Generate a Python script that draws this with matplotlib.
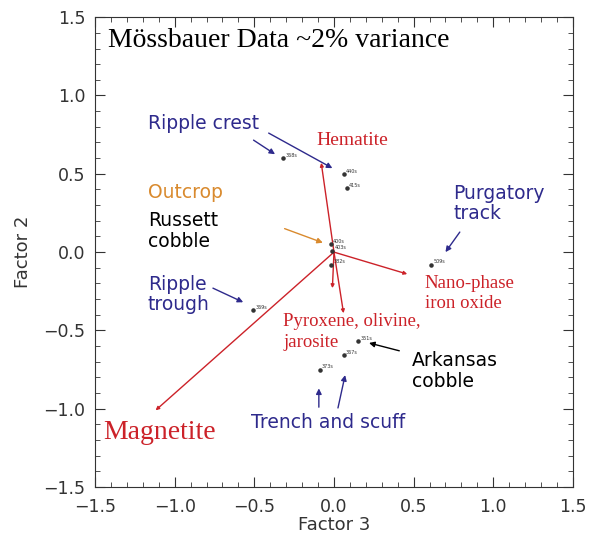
import numpy as np
import matplotlib.pyplot as plt
from matplotlib.ticker import MultipleLocator

# sample scores (Factor 3, Factor 2)
sample_names = ['368s', '440s', '415s', '400s', '403s', '382s', '509s', '369s', '351s', '367s', '373s']
sample_f3 = [-0.32, 0.06, 0.08, -0.02, -0.01, -0.02, 0.61, -0.51, 0.15, 0.06, -0.09]
sample_f2 = [0.60, 0.50, 0.41, 0.05, 0.01, -0.08, -0.08, -0.37, -0.57, -0.66, -0.75]

# loading vectors (Factor 3, Factor 2)
comp_names = ['Hematite', 'Nano-phase', 'Pyroxene', 'Pyroxene2', 'Magnetite']
comp_f3 = [-0.08, 0.46, 0.06, -0.01, -1.12]
comp_f2 = [0.57, -0.14, -0.39, -0.23, -1.01]

RED = '#cc2229'
BLUE = '#2e2a8c'
ORANGE = '#d98a2e'

fig = plt.figure(figsize=(5.98, 5.37), dpi=100)
ax = fig.add_axes([0.159, 0.093, 0.799, 0.875])

# red loading arrows from origin
for x, y in zip(comp_f3, comp_f2):
    ax.annotate('', xy=(x, y), xytext=(0, 0),
                arrowprops=dict(arrowstyle='-|>', color=RED, lw=1.0,
                                mutation_scale=5, shrinkA=0, shrinkB=0))

# sample points
ax.scatter(sample_f3, sample_f2, s=5, color='#333333', zorder=3)
for name, x, y in zip(sample_names, sample_f3, sample_f2):
    ax.text(x + 0.015, y + 0.008, name, fontsize=3.5, color='#333333')

# annotations
serif = 'Liberation Serif'
ax.text(-1.42, 1.31, 'Mössbauer Data ~2% variance', family=serif, fontsize=20)
ax.text(-0.11, 0.71, 'Hematite', family=serif, fontsize=14, color=RED, va='center')
ax.text(0.57, -0.145, 'Nano-phase\niron oxide', family=serif, fontsize=13.5, color=RED,
        va='top', linespacing=1.25)
ax.text(-0.32, -0.445, 'Pyroxene, olivine,', family=serif, fontsize=13.5,
        color=RED, va='center')
ax.text(-0.32, -0.58, 'jarosite', family=serif, fontsize=13.5,
        color=RED, va='center')
ax.text(-1.45, -1.15, 'Magnetite', family=serif, fontsize=20, color=RED, va='center')

ax.text(-1.17, 0.82, 'Ripple crest', fontsize=13.5, color=BLUE, va='center')
ax.text(-1.17, 0.38, 'Outcrop', fontsize=13.5, color=ORANGE, va='center')
ax.text(-1.17, 0.135, 'Russett\ncobble', fontsize=13.5, color='black', va='center',
        linespacing=1.1)
ax.text(0.75, 0.31, 'Purgatory\ntrack', fontsize=13.5, color=BLUE, va='center',
        linespacing=1.1)
ax.text(-1.17, -0.27, 'Ripple\ntrough', fontsize=13.5, color=BLUE, va='center',
        linespacing=1.1)
ax.text(0.49, -0.76, 'Arkansas\ncobble', fontsize=13.5, color='black', va='center',
        linespacing=1.1)
ax.text(-0.52, -1.085, 'Trench and scuff', fontsize=13.5, color=BLUE, va='center')

def pointer(xy, xytext, color):
    ax.annotate('', xy=xy, xytext=xytext,
                arrowprops=dict(arrowstyle='-|>', color=color, lw=1.0,
                                mutation_scale=8, shrinkA=0, shrinkB=0))

pointer((-0.37, 0.625), (-0.505, 0.715), BLUE)
pointer((-0.01, 0.536), (-0.41, 0.76), BLUE)
pointer((-0.07, 0.06), (-0.31, 0.15), ORANGE)
pointer((0.70, 0.0), (0.79, 0.128), BLUE)
pointer((-0.57, -0.32), (-0.76, -0.23), BLUE)
pointer((0.22, -0.58), (0.41, -0.63), 'black')
pointer((-0.095, -0.87), (-0.095, -0.99), BLUE)
pointer((0.07, -0.785), (0.025, -0.995), BLUE)

ax.set_xlim(-1.5, 1.5)
ax.set_ylim(-1.5, 1.5)
ax.xaxis.set_major_locator(MultipleLocator(0.5))
ax.yaxis.set_major_locator(MultipleLocator(0.5))
ax.xaxis.set_minor_locator(MultipleLocator(0.1))
ax.yaxis.set_minor_locator(MultipleLocator(0.1))
ax.tick_params(which='both', direction='in', top=True, right=True, labelsize=12.5,
               color='#333333', labelcolor='#333333')
ax.tick_params(which='major', length=7)
ax.tick_params(which='minor', length=3.5)
ax.tick_params(axis='y', which='major', pad=7)
ax.tick_params(axis='x', which='major', pad=8)
for s in ax.spines.values():
    s.set_color('#333333')
ax.set_xlabel('Factor 3', fontsize=13, color='#333333', labelpad=0)
ax.set_ylabel('Factor 2', fontsize=13, color='#333333', labelpad=8)

fig.savefig('out.png', dpi=100)
